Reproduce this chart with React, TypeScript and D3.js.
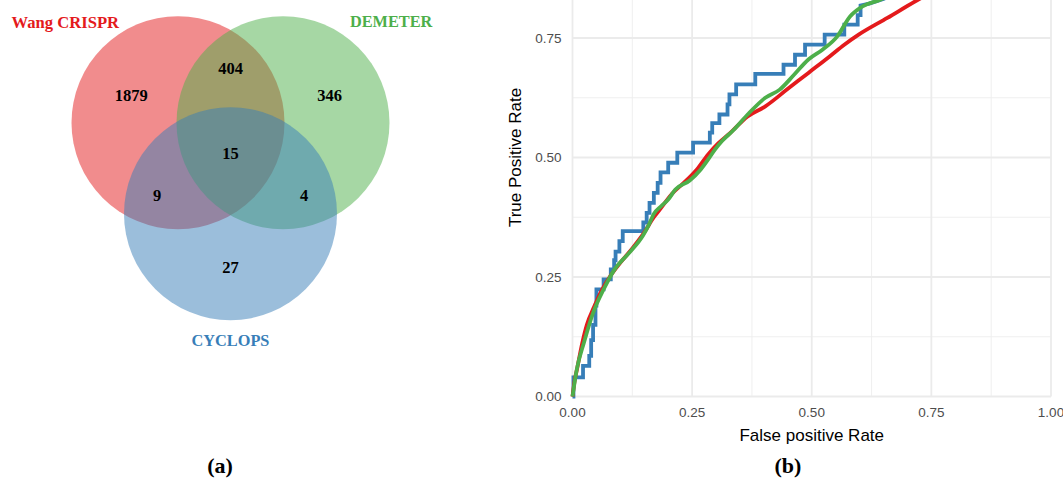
import { useEffect } from 'react';
import * as d3 from 'd3';

// ---- (a) Venn diagram data ----
const vennSets = ['Wang CRISPR', 'DEMETER', 'CYCLOPS'];
const vennColors = ['#e41a1c', '#4daf4a', '#377eb8'];
// regions, by set index membership
const vennRegions: number[][] = [[0], [0, 1], [1], [0, 1, 2], [0, 2], [1, 2], [2]];
const vennCounts = [1879, 404, 346, 15, 9, 4, 27];

// ---- (b) ROC data (fpr, tpr) ----
const rocTicks = [0, 0.25, 0.5, 0.75, 1];
const rocMinorTicks = [0.125, 0.375, 0.625, 0.875];

// CYCLOPS: step corners (x where the curve rises, new tpr)
const cyclopsSteps: [number, number][] = [
  [0, 0], [0.002, 0.04], [0.022, 0.064], [0.035, 0.085], [0.039, 0.118], [0.043, 0.15],
  [0.048, 0.19], [0.05, 0.224], [0.065, 0.245], [0.08, 0.266], [0.087, 0.285], [0.09, 0.303],
  [0.098, 0.325], [0.105, 0.346], [0.148, 0.364], [0.155, 0.384], [0.161, 0.405], [0.17, 0.426],
  [0.178, 0.447], [0.184, 0.469], [0.2, 0.489], [0.219, 0.51], [0.252, 0.531], [0.287, 0.552],
  [0.292, 0.572], [0.307, 0.59], [0.324, 0.611], [0.328, 0.632], [0.342, 0.653], [0.382, 0.675],
  [0.441, 0.694], [0.465, 0.715], [0.486, 0.736], [0.527, 0.757], [0.568, 0.778], [0.596, 0.798],
  [0.602, 0.818],
];
const cyclopsTail: [number, number][] = [[0.62, 0.822], [0.651, 0.832], [0.7, 0.86], [0.8, 0.91], [1, 1]];

const wangRoc: [number, number][] = [
  [0, 0], [0.004, 0.03], [0.01, 0.06], [0.02, 0.11], [0.03, 0.15], [0.045, 0.187], [0.06, 0.22],
  [0.079, 0.252], [0.1, 0.28], [0.125, 0.31], [0.149, 0.342], [0.17, 0.375], [0.184, 0.393],
  [0.208, 0.424], [0.238, 0.452], [0.26, 0.475], [0.283, 0.506], [0.305, 0.53], [0.328, 0.55],
  [0.366, 0.586], [0.403, 0.607], [0.448, 0.642], [0.493, 0.677], [0.538, 0.712], [0.568, 0.736],
  [0.598, 0.757], [0.658, 0.792], [0.722, 0.83], [0.8, 0.87], [0.9, 0.93], [1, 1],
];

const demeterRoc: [number, number][] = [
  [0, 0], [0.009, 0.057], [0.024, 0.113], [0.043, 0.175], [0.065, 0.224], [0.088, 0.266],
  [0.118, 0.3], [0.148, 0.338], [0.16, 0.36], [0.17, 0.382], [0.185, 0.398], [0.2, 0.412],
  [0.215, 0.433], [0.245, 0.452], [0.268, 0.475], [0.285, 0.498], [0.298, 0.517], [0.313, 0.535],
  [0.336, 0.557], [0.366, 0.59], [0.403, 0.625], [0.433, 0.642], [0.463, 0.673], [0.493, 0.705],
  [0.523, 0.726], [0.553, 0.753], [0.58, 0.795], [0.606, 0.816], [0.643, 0.83], [0.7, 0.86],
  [0.8, 0.91], [1, 1],
];

const serif = '"Liberation Serif", "Times New Roman", serif';
const sans = '"Liberation Sans", Arial, Helvetica, sans-serif';

function expandSteps(steps: [number, number][]) {
  const pts: [number, number][] = [steps[0]];
  for (let i = 1; i < steps.length; i++) {
    pts.push([steps[i][0], steps[i - 1][1]]);
    pts.push(steps[i]);
  }
  return pts;
}

function Venn() {
  const r = 106.5;
  const centers: [number, number][] = [
    [178, 122.7],
    [283, 122.7],
    [230.5, 213.7],
  ];
  const g: [number, number] = [d3.mean(centers, c => c[0])!, d3.mean(centers, c => c[1])!];

  const labelPos = (sets: number[]): [number, number] => {
    if (sets.length === 3) return g;
    const mx = d3.mean(sets, i => centers[i][0])!;
    const my = d3.mean(sets, i => centers[i][1])!;
    const k = sets.length === 1 ? 0.89 : 1.8;
    return [mx + k * (mx - g[0]), my + k * (my - g[1])];
  };

  return (
    <g>
      {centers.map((c, i) => (
        <circle key={i} cx={c[0]} cy={c[1]} r={r} fill={vennColors[i]} fillOpacity={0.5} />
      ))}
      {vennRegions.map((sets, i) => {
        const [x, y] = labelPos(sets);
        return (
          <text key={i} x={x} y={y} dy="0.34em" textAnchor="middle"
            fontFamily={serif} fontWeight="bold" fontSize={16.5} fill="#000">
            {vennCounts[i]}
          </text>
        );
      })}
      <text x={centers[0][0] - 59} y={centers[0][1] - r + 12} textAnchor="end"
        fontFamily={serif} fontWeight="bold" fontSize={16.6} fill={vennColors[0]}>{vennSets[0]}</text>
      <text x={centers[1][0] + 67} y={centers[1][1] - r + 11} textAnchor="start"
        fontFamily={serif} fontWeight="bold" fontSize={16.3} fill={vennColors[1]}>{vennSets[1]}</text>
      <text x={centers[2][0]} y={centers[2][1] + r + 26} textAnchor="middle"
        fontFamily={serif} fontWeight="bold" fontSize={16.3} fill={vennColors[2]}>{vennSets[2]}</text>
      <text x={220} y={473} textAnchor="middle" fontFamily={serif} fontWeight="bold" fontSize={22}>(a)</text>
    </g>
  );
}

function Roc() {
  const x = d3.scaleLinear().domain([0, 1]).range([572.5, 1051]);
  const y = d3.scaleLinear().domain([0, 1]).range([396.5, -81.5]);
  const line = d3.line<[number, number]>().x(d => x(d[0])).y(d => y(d[1]));
  const smooth = d3.line<[number, number]>().x(d => x(d[0])).y(d => y(d[1])).curve(d3.curveMonotoneX);
  const cyclops = [...expandSteps(cyclopsSteps), ...cyclopsTail];
  const fmt = d3.format('.2f');
  const lw = 3.8;

  return (
    <g>
      {rocMinorTicks.map(t => (
        <g key={'m' + t}>
          <line x1={x(0)} x2={x(1)} y1={y(t)} y2={y(t)} stroke="#ededed" strokeWidth={0.9} />
          <line x1={x(t)} x2={x(t)} y1={y(1)} y2={y(0)} stroke="#ededed" strokeWidth={0.9} />
        </g>
      ))}
      {rocTicks.map(t => (
        <g key={'M' + t}>
          <line x1={x(0)} x2={x(1)} y1={y(t)} y2={y(t)} stroke="#ebebeb" strokeWidth={1.8} />
          <line x1={x(t)} x2={x(t)} y1={y(1)} y2={y(0)} stroke="#ebebeb" strokeWidth={1.8} />
        </g>
      ))}
      <path d={line(cyclops)!} fill="none" stroke="#377eb8" strokeWidth={lw} strokeLinejoin="miter" />
      <path d={smooth(wangRoc)!} fill="none" stroke="#e41a1c" strokeWidth={lw} strokeLinejoin="round" />
      <path d={smooth(demeterRoc)!} fill="none" stroke="#4daf4a" strokeWidth={lw} strokeLinejoin="round" />

      {rocTicks.map(t => (
        <text key={'x' + t} x={x(t)} y={416.5} textAnchor="middle" fontFamily={sans} fontSize={13.5} fill="#4d4d4d">
          {fmt(t)}
        </text>
      ))}
      {rocTicks.filter(t => y(t) > 0).map(t => (
        <text key={'y' + t} x={561.5} y={y(t)} dy="0.36em" textAnchor="end" fontFamily={sans} fontSize={13.5} fill="#4d4d4d">
          {fmt(t)}
        </text>
      ))}
      <text x={(x(0) + x(1)) / 2} y={441} textAnchor="middle" fontFamily={sans} fontSize={17} fill="#000">
        False positive Rate
      </text>
      <text transform={`translate(521,${(y(0) + y(1)) / 2}) rotate(-90)`} textAnchor="middle"
        fontFamily={sans} fontSize={17} fill="#000">
        True Positive Rate
      </text>
      <text x={788} y={473} textAnchor="middle" fontFamily={serif} fontWeight="bold" fontSize={22}>(b)</text>
    </g>
  );
}

export default function App() {
  useEffect(() => {
    document.body.style.margin = '0';
  }, []);
  return (
    <svg width={1063} height={479} style={{ display: 'block', background: '#fff' }}>
      <Venn />
      <Roc />
    </svg>
  );
}
